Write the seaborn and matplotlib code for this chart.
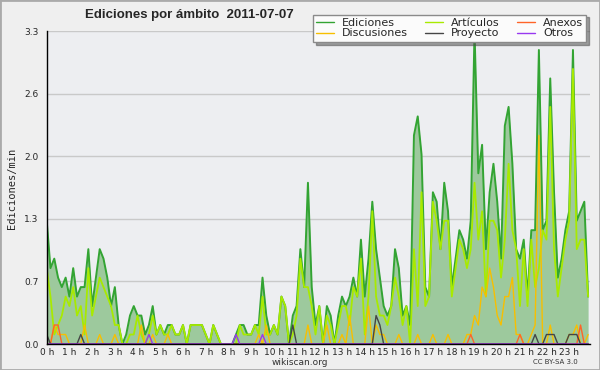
import numpy as np
import pandas as pd
import matplotlib
matplotlib.use("Agg")
import matplotlib.pyplot as plt
import seaborn as sns
from matplotlib.patches import Rectangle

# ------------------ DATA (edits per minute, 10-minute buckets) ------------------
ediciones = [
    1.3, 0.8, 0.9, 0.7, 0.6, 0.7,   # 0 h
    0.5, 0.8, 0.5, 0.6, 0.6, 1.0,   # 1 h
    0.4, 0.7, 1.0, 0.9, 0.7, 0.4,   # 2 h
    0.6, 0.2, 0.0, 0.1, 0.3, 0.4,   # 3 h
    0.3, 0.3, 0.1, 0.2, 0.4, 0.1,   # 4 h
    0.2, 0.1, 0.2, 0.2, 0.1, 0.1,   # 5 h
    0.2, 0.0, 0.2, 0.2, 0.2, 0.2,   # 6 h
    0.1, 0.0, 0.2, 0.1, 0.0, 0.0,   # 7 h
    0.0, 0.0, 0.1, 0.2, 0.2, 0.1,   # 8 h
    0.1, 0.2, 0.2, 0.7, 0.3, 0.1,   # 9 h
    0.2, 0.1, 0.5, 0.4, 0.0, 0.3,   # 10 h
    0.4, 1.0, 0.6, 1.7, 0.6, 0.2,   # 11 h
    0.4, 0.0, 0.4, 0.3, 0.0, 0.3,   # 12 h
    0.5, 0.4, 0.5, 0.7, 0.5, 1.1,   # 13 h
    0.5, 0.9, 1.5, 1.0, 0.7, 0.4,   # 14 h
    0.3, 0.4, 1.0, 0.8, 0.3, 0.4,   # 15 h
    0.2, 2.2, 2.4, 2.0, 0.6, 0.5,   # 16 h
    1.6, 1.5, 1.0, 1.7, 1.4, 0.6,   # 17 h
    0.9, 1.2, 1.1, 0.9, 1.3, 3.3,   # 18 h
    1.8, 2.1, 1.0, 1.6, 1.9, 1.5,   # 19 h
    0.9, 2.3, 2.5, 1.9, 1.0, 0.9,   # 20 h
    1.1, 0.5, 1.2, 1.2, 3.1, 1.2,   # 21 h
    1.3, 2.8, 1.6, 0.7, 0.9, 1.2,   # 22 h
    1.4, 3.1, 1.3, 1.4, 1.5, 0.5,   # 23 h
]

articulos = [
    0.8, 0.5, 0.1, 0.2, 0.3, 0.5,
    0.4, 0.6, 0.3, 0.4, 0.1, 0.8,
    0.3, 0.5, 0.7, 0.6, 0.5, 0.4,
    0.2, 0.2, 0.0, 0.0, 0.1, 0.1,
    0.3, 0.1, 0.0, 0.1, 0.3, 0.1,
    0.2, 0.1, 0.1, 0.2, 0.1, 0.1,
    0.2, 0.0, 0.2, 0.2, 0.2, 0.2,
    0.1, 0.0, 0.2, 0.1, 0.0, 0.0,
    0.0, 0.0, 0.0, 0.2, 0.1, 0.1,
    0.1, 0.2, 0.1, 0.5, 0.1, 0.1,
    0.2, 0.1, 0.5, 0.4, 0.0, 0.1,
    0.3, 0.9, 0.6, 0.6, 0.4, 0.1,
    0.4, 0.0, 0.3, 0.2, 0.0, 0.2,
    0.4, 0.4, 0.2, 0.6, 0.5, 0.9,
    0.1, 0.5, 1.4, 0.5, 0.3, 0.3,
    0.2, 0.4, 0.7, 0.5, 0.2, 0.4,
    0.0, 1.0, 0.4, 1.6, 0.4, 0.5,
    1.5, 1.3, 1.0, 1.3, 1.3, 0.5,
    0.8, 1.1, 1.0, 0.8, 1.0, 1.7,
    1.1, 1.4, 0.5, 1.3, 1.3, 1.2,
    0.7, 1.1, 1.9, 1.2, 1.0, 0.4,
    1.0, 0.4, 1.1, 0.6, 0.8, 1.2,
    1.1, 2.5, 1.0, 0.5, 0.8, 1.1,
    1.3, 2.9, 1.0, 1.1, 1.1, 0.5,
]

discusiones = [
    0.0, 0.0, 0.2, 0.1, 0.1, 0.1,
    0.0, 0.0, 0.0, 0.0, 0.2, 0.0,
    0.0, 0.0, 0.1, 0.0, 0.0, 0.0,
    0.1, 0.0, 0.0, 0.0, 0.0, 0.0,
    0.0, 0.2, 0.0, 0.0, 0.1, 0.0,
    0.0, 0.0, 0.1, 0.0, 0.0, 0.0,
    0.0, 0.0, 0.0, 0.0, 0.0, 0.0,
    0.0, 0.0, 0.0, 0.0, 0.0, 0.0,
    0.0, 0.0, 0.0, 0.0, 0.0, 0.0,
    0.0, 0.0, 0.1, 0.0, 0.2, 0.0,
    0.0, 0.0, 0.0, 0.0, 0.0, 0.0,
    0.0, 0.0, 0.0, 0.2, 0.0, 0.0,
    0.0, 0.0, 0.2, 0.0, 0.0, 0.0,
    0.1, 0.0, 0.3, 0.0, 0.0, 0.0,
    0.0, 0.4, 0.0, 0.2, 0.1, 0.1,
    0.0, 0.0, 0.0, 0.1, 0.0, 0.0,
    0.0, 0.0, 0.1, 0.0, 0.0, 0.0,
    0.1, 0.0, 0.0, 0.0, 0.1, 0.0,
    0.0, 0.0, 0.0, 0.1, 0.1, 0.3,
    0.2, 0.6, 0.5, 0.8, 0.6, 0.3,
    0.2, 0.5, 0.5, 0.7, 0.1, 0.1,
    0.0, 0.0, 0.1, 0.2, 2.2, 0.0,
    0.0, 0.2, 0.0, 0.0, 0.0, 0.0,
    0.1, 0.1, 0.2, 0.0, 0.0, 0.1,
]

anexos = [0.0] * 144
for i, v in [(2, 0.2), (3, 0.2), (112, 0.1), (125, 0.1), (141, 0.2)]:
    anexos[i] = v

proyecto = [0.0] * 144
for i, v in [(0, 0.1), (9, 0.1), (65, 0.2), (87, 0.3), (88, 0.2), (129, 0.1),
             (132, 0.1), (133, 0.1), (134, 0.1), (138, 0.1), (139, 0.1), (140, 0.1)]:
    proyecto[i] = v

otros = [0.0] * 144
for i, v in [(27, 0.1), (50, 0.1), (57, 0.1)]:
    otros[i] = v

y_ticks = [0.0, 0.66, 1.32, 1.98, 2.64, 3.3]
y_labels = ["0.0", "0.7", "1.3", "2.0", "2.6", "3.3"]
x_labels = [f"{h} h" for h in range(24)]

# ------------------ FRAME ------------------
df = pd.DataFrame({
    "hora": np.arange(144) / 6.0,
    "Ediciones": ediciones,
    "Artículos": articulos,
    "Discusiones": discusiones,
    "Anexos": anexos,
    "Proyecto": proyecto,
    "Otros": otros,
})

colors = {
    "Ediciones": "#33a433",
    "Artículos": "#a8ea00",
    "Discusiones": "#f7bf00",
    "Anexos": "#ff6428",
    "Proyecto": "#454545",
    "Otros": "#9838f0",
}
widths = {"Ediciones": 1.4, "Artículos": 1.3, "Discusiones": 1.0,
          "Anexos": 1.0, "Proyecto": 1.0, "Otros": 1.0}

sns.set_style("white")
plt.rcParams["font.family"] = ["DejaVu Sans"]

fig = plt.figure(figsize=(6, 3.7), dpi=100, facecolor="#efefef")
ax = fig.add_axes([46.7 / 600, 26 / 370, (590 - 46.7) / 600, 313 / 370])
ax.set_facecolor("#edeef1")

ax.fill_between(df["hora"], df["Ediciones"], color="#9dc99d", lw=0, zorder=2)
for name in ["Ediciones", "Artículos", "Discusiones", "Anexos", "Proyecto", "Otros"]:
    sns.lineplot(data=df, x="hora", y=name, ax=ax, color=colors[name],
                 lw=widths[name], label=name, zorder=3)
if ax.get_legend() is not None:
    ax.get_legend().remove()

ax.set_xlim(0, 143.5 / 6)
ax.set_ylim(0, 3.3)
ax.set_xticks(range(24))
ax.set_xticklabels(x_labels)
ax.set_xticks(np.arange(0, 24, 1 / 6), minor=True)
ax.set_yticks(y_ticks)
ax.set_yticklabels(y_labels)
ax.set_yticks([0.33, 0.99, 1.65, 2.31, 2.97], minor=True)
ax.set_xlabel("")
ax.set_ylabel("")
ax.grid(axis="y", color="#c9c9c9", lw=1)
ax.set_axisbelow(True)

for side in ["top", "right"]:
    ax.spines[side].set_visible(False)
for side in ["left", "bottom"]:
    ax.spines[side].set_color("black")
    ax.spines[side].set_linewidth(1.0)
    ax.spines[side].set_zorder(5)

ax.tick_params(axis="both", which="both", direction="out", color="black",
               labelsize=6.5)
ax.tick_params(axis="y", which="major", length=5, pad=1)
ax.tick_params(axis="y", which="minor", length=3)
ax.tick_params(axis="x", which="major", length=3, pad=0)
ax.tick_params(axis="x", which="minor", length=3)

# ------------------ TEXTS ------------------
fig.text(85 / 600, 1 - 15 / 370, "Ediciones por ámbito  2011-07-07",
         fontsize=9.5, fontweight="bold", va="center", ha="left",
         family=["Liberation Sans", "DejaVu Sans"])
fig.text(12 / 600, 1 - 188 / 370, "Ediciones/min", rotation=90,
         fontsize=7.5, va="center", ha="center", family=["DejaVu Sans Mono"])
fig.text(0.5, 1 - 362.5 / 370, "wikiscan.org", fontsize=6.5, ha="center",
         va="center", color="#333333")
fig.text(555 / 600, 1 - 362.5 / 370, "CC BY-SA 3.0", fontsize=5, ha="center",
         va="center", color="#333333")

# legend, column order as in the reference
handles, labels = ax.get_legend_handles_labels()
lookup = dict(zip(labels, handles))
order = ["Ediciones", "Discusiones", "Artículos", "Proyecto", "Anexos", "Otros"]
leg = fig.legend([lookup[k] for k in order], order, ncol=3, loc="upper right",
                 bbox_to_anchor=(592 / 600, 1 - 9 / 370), fontsize=8,
                 frameon=True, fancybox=False, shadow=True,
                 handlelength=1.6, handletextpad=0.7, columnspacing=1.6,
                 labelspacing=0.05, borderpad=0.3)
leg.get_frame().set_edgecolor("#8a8a8a")
leg.get_frame().set_facecolor("#fbfbfb")
leg.get_frame().set_alpha(1)
for line in leg.get_lines():
    line.set_linewidth(1.0)

fig.patches.append(Rectangle((0, 0), 1, 1, transform=fig.transFigure,
                             fill=False, edgecolor="#aaaaaa", lw=2))

fig.savefig("out.png", dpi=100, facecolor=fig.get_facecolor())
